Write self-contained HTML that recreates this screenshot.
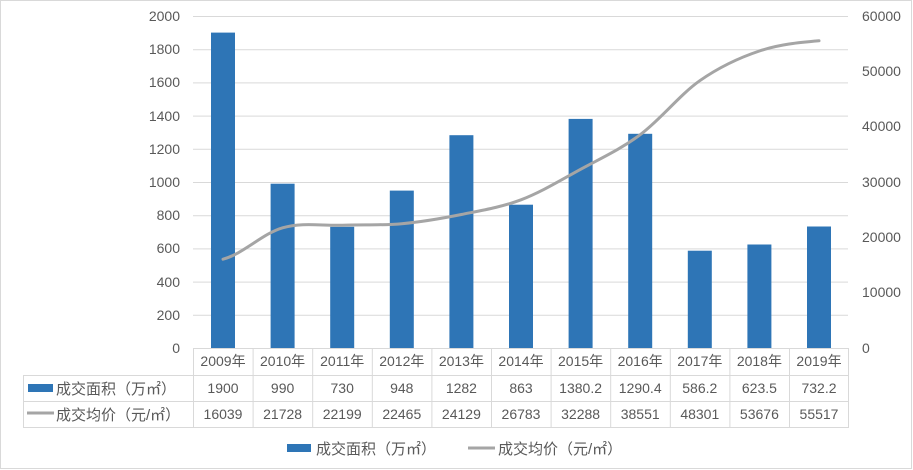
<!DOCTYPE html>
<html><head><meta charset="utf-8"><style>
html,body{margin:0;padding:0;background:#fff}
svg{display:block}
text{font-family:"Liberation Sans","Noto Sans CJK SC",sans-serif;fill:#595959;font-size:14px}
.lg{font-size:15px}
</style></head><body>
<svg width="913" height="470" xmlns="http://www.w3.org/2000/svg">
<rect x="0.5" y="0.5" width="911" height="468" fill="#fff" stroke="#d9d9d9"/>
<g stroke="#d9d9d9" stroke-width="1">
<line x1="193" x2="848" y1="16.5" y2="16.5"/><line x1="193" x2="848" y1="49.7" y2="49.7"/>
<line x1="193" x2="848" y1="82.9" y2="82.9"/><line x1="193" x2="848" y1="116.1" y2="116.1"/>
<line x1="193" x2="848" y1="149.3" y2="149.3"/><line x1="193" x2="848" y1="182.5" y2="182.5"/>
<line x1="193" x2="848" y1="215.7" y2="215.7"/><line x1="193" x2="848" y1="248.9" y2="248.9"/>
<line x1="193" x2="848" y1="282.1" y2="282.1"/><line x1="193" x2="848" y1="315.3" y2="315.3"/>
</g>
<g fill="#2e75b6">
<rect x="211" y="32.6" width="24" height="315.4"/>
<rect x="270.6" y="183.7" width="24" height="164.3"/>
<rect x="330.2" y="226.8" width="24" height="121.2"/>
<rect x="389.8" y="190.6" width="24" height="157.4"/>
<rect x="449.4" y="135.2" width="24" height="212.8"/>
<rect x="509" y="204.7" width="24" height="143.3"/>
<rect x="568.6" y="118.9" width="24" height="229.1"/>
<rect x="628.2" y="133.8" width="24" height="214.2"/>
<rect x="687.8" y="250.7" width="24" height="97.3"/>
<rect x="747.4" y="244.5" width="24" height="103.5"/>
<rect x="807" y="226.5" width="24" height="121.5"/>
</g>
<path fill="none" stroke="#a5a5a5" stroke-width="3" stroke-linecap="round" d="M223,259.2 C242.9,254 262.7,233.5 282.6,227.8 C302.5,222.1 322.3,225.9 342.2,225.2 C362.1,224.5 381.9,225.5 401.8,223.7 C421.7,221.9 441.5,218.5 461.4,214.5 C481.3,210.5 501.1,207.3 521,199.8 C540.9,192.3 560.7,180.15 580.6,169.3 C600.5,158.45 620.3,149.5 640.2,134.7 C660.1,119.9 679.9,94.65 699.8,80.7 C719.7,66.75 739.5,57.65 759.4,51 C779.3,44.35 799.1,42.5 819,40.8"/>
<g text-anchor="end">
<text x="180" y="21">2000</text><text x="180" y="54">1800</text><text x="180" y="87">1600</text>
<text x="180" y="121">1400</text><text x="180" y="154">1200</text><text x="180" y="187">1000</text>
<text x="180" y="220">800</text><text x="180" y="253">600</text><text x="180" y="287">400</text>
<text x="180" y="320">200</text><text x="180" y="353">0</text>
</g>
<g>
<text x="862" y="21">60000</text><text x="862" y="76">50000</text><text x="862" y="131">40000</text>
<text x="862" y="187">30000</text><text x="862" y="242">20000</text><text x="862" y="297">10000</text>
<text x="862" y="353">0</text>
</g>
<g stroke="#d9d9d9" stroke-width="1">
<line x1="193" x2="848" y1="348.5" y2="348.5"/>
<line x1="23" x2="848" y1="375.5" y2="375.5"/>
<line x1="23" x2="848" y1="401.5" y2="401.5"/>
<line x1="23" x2="848" y1="427.5" y2="427.5"/>
<line x1="23.5" x2="23.5" y1="375" y2="428"/>
<line x1="193.5" x2="193.5" y1="348" y2="428"/><line x1="253.1" x2="253.1" y1="348" y2="428"/>
<line x1="312.7" x2="312.7" y1="348" y2="428"/><line x1="372.3" x2="372.3" y1="348" y2="428"/>
<line x1="431.9" x2="431.9" y1="348" y2="428"/><line x1="491.5" x2="491.5" y1="348" y2="428"/>
<line x1="551.1" x2="551.1" y1="348" y2="428"/><line x1="610.7" x2="610.7" y1="348" y2="428"/>
<line x1="670.3" x2="670.3" y1="348" y2="428"/><line x1="729.9" x2="729.9" y1="348" y2="428"/>
<line x1="789.5" x2="789.5" y1="348" y2="428"/><line x1="848.5" x2="848.5" y1="348" y2="428"/>
</g>
<g text-anchor="middle">
<text x="223" y="366">2009年</text><text x="282.6" y="366">2010年</text><text x="342.2" y="366">2011年</text>
<text x="401.8" y="366">2012年</text><text x="461.4" y="366">2013年</text><text x="521" y="366">2014年</text>
<text x="580.6" y="366">2015年</text><text x="640.2" y="366">2016年</text><text x="699.8" y="366">2017年</text>
<text x="759.4" y="366">2018年</text><text x="819" y="366">2019年</text>
<text x="223" y="393">1900</text><text x="282.6" y="393">990</text><text x="342.2" y="393">730</text>
<text x="401.8" y="393">948</text><text x="461.4" y="393">1282</text><text x="521" y="393">863</text>
<text x="580.6" y="393">1380.2</text><text x="640.2" y="393">1290.4</text><text x="699.8" y="393">586.2</text>
<text x="759.4" y="393">623.5</text><text x="819" y="393">732.2</text>
<text x="223" y="419">16039</text><text x="282.6" y="419">21728</text><text x="342.2" y="419">22199</text>
<text x="401.8" y="419">22465</text><text x="461.4" y="419">24129</text><text x="521" y="419">26783</text>
<text x="580.6" y="419">32288</text><text x="640.2" y="419">38551</text><text x="699.8" y="419">48301</text>
<text x="759.4" y="419">53676</text><text x="819" y="419">55517</text>
</g>
<rect x="28" y="384" width="25" height="8" fill="#2e75b6"/>
<text class="lg" x="56" y="394">成交面积（万㎡）</text>
<line x1="27" x2="54" y1="413" y2="413" stroke="#a5a5a5" stroke-width="3"/>
<text class="lg" x="56" y="420">成交均价（元/㎡）</text>
<rect x="287" y="444" width="24" height="8" fill="#2e75b6"/>
<text class="lg" x="316" y="454">成交面积（万㎡）</text>
<line x1="468" x2="495" y1="448" y2="448" stroke="#a5a5a5" stroke-width="3"/>
<text class="lg" x="498" y="454">成交均价（元/㎡）</text>
</svg>
</body></html>
